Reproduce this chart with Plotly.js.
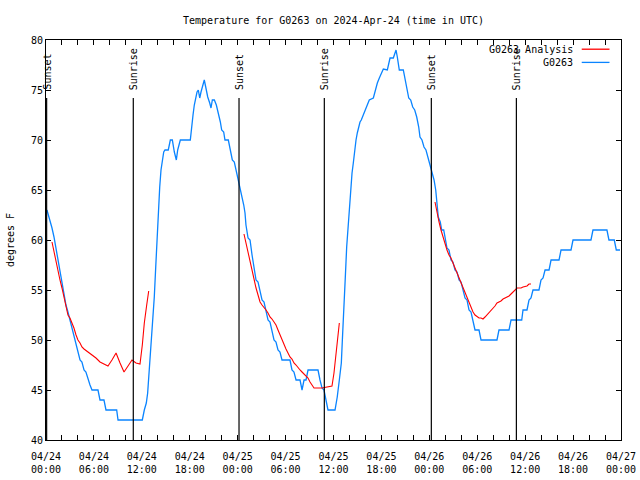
<!DOCTYPE html>
<html>
<head>
<meta charset="utf-8">
<script src="https://cdn.plot.ly/plotly-3.0.1.min.js"></script>
<style>html,body{margin:0;padding:0;background:#fff}#chart{width:640px;height:480px}</style>
</head>
<body>
<div id="chart"></div>
<script>
// Hours since 2024-04-24 00:00 UTC
const obsHours = [0.12,0.5,0.75,1.0,1.25,1.5,1.75,2.0,2.25,2.5,2.75,3.0,3.26,3.5,3.76,4.0,4.26,4.5,4.76,5.0,5.26,5.51,5.76,6.51,6.76,7.26,7.51,8.85,9.02,12.06,12.31,12.56,12.73,12.9,13.06,13.24,13.4,13.56,13.74,13.9,14.06,14.24,14.4,14.56,14.74,14.9,15.31,15.57,15.82,16.07,16.32,16.49,16.82,18.07,18.24,18.41,18.57,18.75,18.91,19.07,19.25,19.41,19.66,19.82,20.0,20.25,20.5,20.66,20.83,21.08,21.33,21.58,21.83,22.0,22.25,22.41,22.83,23.08,23.33,23.58,23.75,24.0,24.26,24.51,24.76,24.92,25.04,25.3,25.55,25.8,26.05,26.3,26.55,26.8,27.05,27.3,27.55,27.8,28.05,28.3,28.55,28.8,29.05,29.3,29.55,30.55,30.8,31.05,31.31,31.81,32.06,32.31,32.56,32.81,34.06,34.31,34.56,34.81,35.06,35.31,36.19,36.47,36.73,36.98,37.15,37.32,37.48,37.65,37.82,37.98,38.15,38.32,38.48,38.66,38.82,38.98,39.16,39.32,39.48,39.73,39.98,40.23,40.48,40.99,41.24,41.49,41.74,41.99,42.24,42.74,42.91,43.08,43.49,43.66,43.83,43.99,44.17,44.24,44.74,44.92,45.08,45.24,45.42,45.67,45.92,46.17,46.42,46.67,46.83,47.08,47.33,47.58,47.83,48.09,48.34,48.59,48.8,48.96,49.12,49.37,49.55,49.8,49.96,50.21,50.46,50.71,50.96,51.21,51.47,51.72,51.97,52.22,52.47,52.72,52.97,53.22,53.47,53.72,54.22,54.47,56.47,56.72,57.98,58.23,59.57,59.73,60.23,60.48,60.73,60.98,61.73,61.98,62.24,62.49,62.99,63.24,64.24,64.49,65.74,65.99,68.24,68.49,70.24,70.49,71.16,71.41,71.88];
const obsTemp = [63,62,61.2,60.3,59.2,57.8,56.7,55.7,54.5,53.5,52.8,52,51.3,50.3,49.5,49,48,47.8,47,46.8,46,45.5,45,45,44,44,43,43,42,42,43,43.7,44.7,46.5,48.7,50.7,52.3,54.3,57.3,60,63.7,65.3,67,68,68.8,69,69,70,70,68.8,68,69,70,70,71.5,72.5,73.5,74.2,74.8,75,74.2,74.8,75.7,76,75.3,74.3,73.7,73.2,74,74,73.5,72.7,71.8,71,70.8,70,70,69,68,67.8,67.2,66.3,65.3,64.3,63.5,62.7,61.5,60.2,60,58.5,57.3,56,55.8,55,54,53.8,53,52,51.8,51,50,49.8,49,48.8,48,48,47,46.8,46,46,45,46,46,47,47,46,45.2,45,44,43,43,44.3,46,47.7,50.7,54.3,56.3,59.3,61.3,63,64.7,66.7,67.7,69.3,70,70.7,71.3,71.8,72,72.5,73,73.3,74,74.2,75,75.7,76.2,76.7,77.1,77,77.7,78.2,78.2,78.7,79,78.3,77.5,77,77,76.3,75.7,75,74.2,74,73.3,73,72.3,71.3,70.3,70,69.3,69,68.3,67.5,66.8,66,65,63.7,62.3,61.8,61,61,60.2,59.2,59,58,57.8,57,56.8,56,55.8,55,54.2,54,53,52.8,52,51,51,50,50,51,51,52,52,53,53,54,54.2,55,55,56,56.2,57,57,58,58,59,59,60,60,61,61,60,60,59,59];

const anaHours1 = [0.75,1.0,1.25,1.5,1.75,2.0,2.25,2.5,2.75,3.0,3.26,3.5,3.76,4.0,4.26,4.5,4.76,5.26,5.76,6.26,6.76,7.26,7.76,8.26,8.77,9.27,9.77,10.27,10.77,11.27,11.77,12.06,12.31,12.61,12.86];
const anaTemp1  = [59.8,58.8,57.8,56.8,56,55.2,54.2,53.2,52.5,52.2,51.7,51.2,50.5,50,49.7,49.3,49.1,48.8,48.5,48.2,47.8,47.6,47.4,48,48.7,47.7,46.8,47.4,48,47.7,47.6,49.5,51.7,53.5,54.9];
const anaHours2 = [24.79,25.04,25.3,25.55,25.8,26.05,26.3,26.55,26.8,27.05,27.3,27.55,27.8,28.05,28.3,28.55,28.8,29.05,29.3,29.55,29.8,30.05,30.3,30.55,30.8,31.05,31.31,31.56,31.81,32.06,32.31,32.56,32.81,33.06,33.31,33.56,34.56,35.31,35.81,36.06,36.31,36.56,36.73];
const anaTemp2  = [60.6,59.7,58.7,57.7,56.7,55.8,55.2,54.5,53.8,53.5,53.3,53,52.7,52.3,52.1,51.8,51.5,51,50.5,50,49.5,49.1,48.7,48.3,48.1,47.7,47.5,47.2,47,46.8,46.6,46.4,46.2,45.8,45.5,45.2,45.2,45.3,45.4,46.7,48.5,50.3,51.7];
const anaHours3 = [48.71,48.96,49.21,49.46,49.71,49.96,50.21,50.46,50.71,50.96,51.21,51.47,51.72,51.97,52.22,52.47,52.72,52.97,53.22,53.47,53.72,53.97,54.22,54.47,54.72,54.97,55.22,55.47,55.72,55.97,56.22,56.47,56.72,56.97,57.23,57.48,57.73,57.98,58.23,58.48,58.73,58.98,59.48,59.73,60.23,60.48,60.73];
const anaTemp3  = [63.8,62.7,61.8,61,60.3,59.7,59,58.5,58.2,57.7,57.2,56.7,56.2,55.7,55.2,54.7,54.2,53.7,53.2,52.8,52.5,52.3,52.2,52.2,52.1,52.3,52.5,52.7,52.9,53.2,53.4,53.7,53.8,53.9,54.1,54.2,54.3,54.4,54.6,54.8,55.1,55.2,55.2,55.3,55.4,55.6,55.6];

const eventLabels = ['Sunset','Sunrise','Sunset','Sunrise','Sunset','Sunrise'];
const eventHours  = [0.08,10.93,24.17,34.85,48.25,58.9];

const tickHours = [0,6,12,18,24,30,36,42,48,54,60,66,72];
const tickDates = ['04/24','04/24','04/24','04/24','04/25','04/25','04/25','04/25','04/26','04/26','04/26','04/26','04/27'];
const tickTimes = ['00:00','06:00','12:00','18:00','00:00','06:00','12:00','18:00','00:00','06:00','12:00','18:00','00:00'];

const seriesNames = ['G0263 Analysis','G0263'];
const seriesColors = ['#ff0000','#0a84ff'];

const FONT = {family:'DejaVu Sans Mono, monospace', size:10, color:'#000'};

const anaX = anaHours1.concat([null], anaHours2, [null], anaHours3);
const anaY = anaTemp1.concat([null], anaTemp2, [null], anaTemp3);

const traces = [
  {x: obsHours, y: obsTemp, mode:'lines', name: seriesNames[1], line:{color:seriesColors[1], width:1.3}, showlegend:false},
  {x: anaX, y: anaY, mode:'lines', name: seriesNames[0], line:{color:seriesColors[0], width:1.1}, connectgaps:false, showlegend:false}
];

const shapes = [];
const annotations = [];
eventHours.forEach((h,i)=>{
  shapes.push({type:'line', xref:'x', yref:'paper', x0:h, x1:h, y0:0, y1:0.855, line:{color:'#000', width:1.2}});
  annotations.push({xref:'x', yref:'paper', x:h, y:0.87, text:eventLabels[i], textangle:-90, showarrow:false, xanchor:'center', yanchor:'bottom', font:FONT});
});
// legend (gnuplot style: text then sample line)
const legendY = [0.977, 0.944];
seriesNames.forEach((n,i)=>{
  annotations.push({xref:'paper', yref:'paper', x:0.9195, y:legendY[i], text:n, showarrow:false, xanchor:'right', yanchor:'middle', font:FONT});
  shapes.push({type:'line', xref:'paper', yref:'paper', x0:0.9317, x1:0.980, y0:legendY[i], y1:legendY[i], line:{color:seriesColors[i], width:1.3}});
});

const layout = {
  width:640, height:480,
  margin:{l:46, r:19, t:40, b:40},
  paper_bgcolor:'#fff', plot_bgcolor:'#fff',
  font: FONT,
  title:{text:'Temperature for G0263 on 2024-Apr-24 (time in UTC)', x:0.5, xref:'paper', y:0.958, yref:'container', yanchor:'middle', font:FONT},
  xaxis:{range:[0,72], tickvals:tickHours, ticktext:tickHours.map((h,i)=>tickDates[i]+'<br>'+tickTimes[i]),
    ticks:'inside', ticklen:5, tickcolor:'#000', showline:true, linecolor:'#000', linewidth:1, mirror:'allticks',
    showgrid:false, zeroline:false, tickfont:FONT, ticklabelstandoff:7,
    minor:{dtick:2, ticks:'inside', ticklen:5, tickcolor:'#000', showgrid:false}},
  yaxis:{range:[40,80], dtick:5, tick0:40, ticks:'inside', ticklen:5, tickcolor:'#000', showline:true, linecolor:'#000', linewidth:1, mirror:'allticks',
    showgrid:false, zeroline:false, tickfont:FONT,
    title:{text:'degrees F', font:FONT, standoff:14}},
  shapes: shapes,
  annotations: annotations,
  showlegend:false
};

Plotly.newPlot('chart', traces, layout, {displayModeBar:false, staticPlot:true});
</script>
</body>
</html>
